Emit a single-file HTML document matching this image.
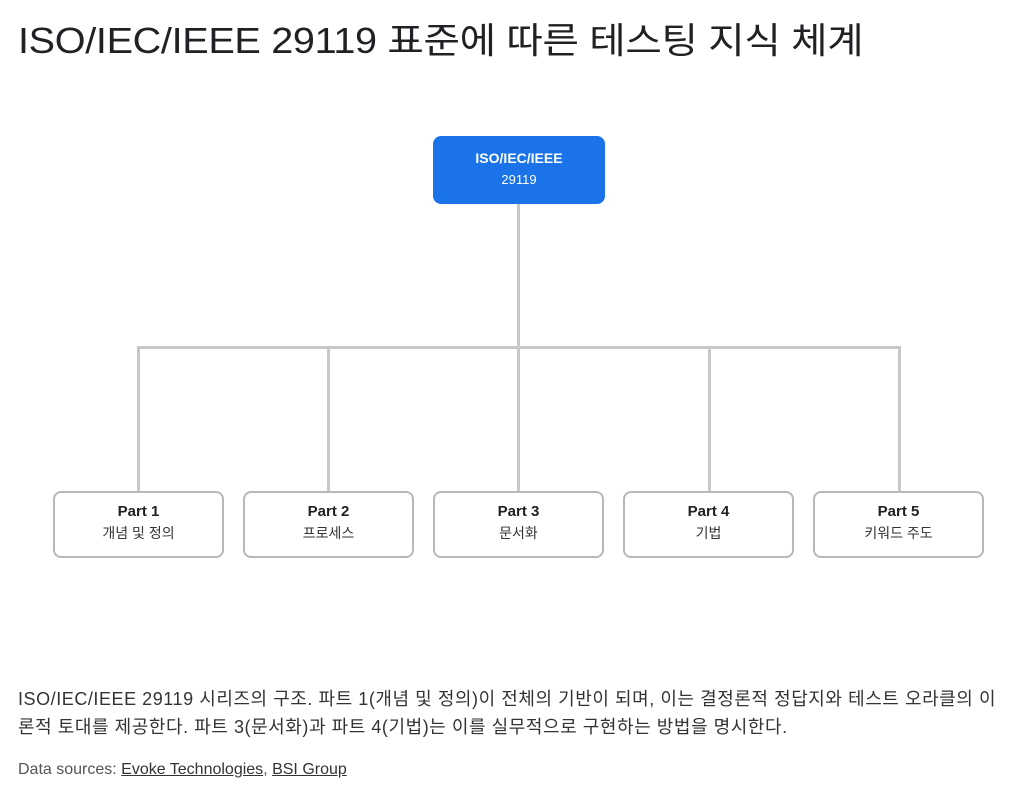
<!DOCTYPE html>
<html><head><meta charset="utf-8"><style>
body{margin:0;width:1024px;height:805px;background:#fff;font-family:"Liberation Sans","Noto Sans CJK KR",sans-serif;color:#202124;position:relative;overflow:hidden}
h1{position:absolute;left:18px;top:12px;margin:0;font-weight:400;font-size:36px;letter-spacing:-0.3px;white-space:nowrap;transform:scaleX(1.1);transform-origin:left top}
.box{position:absolute;box-sizing:border-box;border:2px solid #b8b8b8;border-radius:8px;background:#fff;text-align:center}
.box b{display:block;font-size:15px;margin-top:10px}
.box span{display:block;font-size:14px;margin-top:3px;color:#333}
.top{background:#1a73e8;border:none;color:#fff}
.top b{font-size:14px;margin-top:14px}
.top span{color:#fff;margin-top:6px;font-size:13px}
.l{position:absolute;background:#c8c8c8}
.cap{position:absolute;left:18px;top:685px;font-size:18px;letter-spacing:0.55px;line-height:28px;color:#333;width:1010px;white-space:nowrap}
.src{position:absolute;left:18px;top:761px;font-size:16px;color:#555}
.src u{color:#333}
</style></head><body>
<h1>ISO/IEC/IEEE 29119 표준에 따른 테스팅 지식 체계</h1>
<div class="l" style="left:517px;top:203px;width:3px;height:146px"></div>
<div class="l" style="left:137px;top:346px;width:764px;height:3px"></div>
<div class="l" style="left:137px;top:346px;width:3px;height:146px"></div>
<div class="l" style="left:327px;top:346px;width:3px;height:146px"></div>
<div class="l" style="left:517px;top:346px;width:3px;height:146px"></div>
<div class="l" style="left:708px;top:346px;width:3px;height:146px"></div>
<div class="l" style="left:898px;top:346px;width:3px;height:146px"></div>
<div class="box top" style="left:433px;top:136px;width:172px;height:68px"><b>ISO/IEC/IEEE</b><span>29119</span></div>
<div class="box" style="left:53px;top:491px;width:171px;height:67px"><b>Part 1</b><span>개념 및 정의</span></div>
<div class="box" style="left:243px;top:491px;width:171px;height:67px"><b>Part 2</b><span>프로세스</span></div>
<div class="box" style="left:433px;top:491px;width:171px;height:67px"><b>Part 3</b><span>문서화</span></div>
<div class="box" style="left:623px;top:491px;width:171px;height:67px"><b>Part 4</b><span>기법</span></div>
<div class="box" style="left:813px;top:491px;width:171px;height:67px"><b>Part 5</b><span>키워드 주도</span></div>
<div class="cap">ISO/IEC/IEEE 29119 시리즈의 구조. 파트 1(개념 및 정의)이 전체의 기반이 되며, 이는 결정론적 정답지와 테스트 오라클의 이<br>론적 토대를 제공한다. 파트 3(문서화)과 파트 4(기법)는 이를 실무적으로 구현하는 방법을 명시한다.</div>
<div class="src">Data sources: <u>Evoke Technologies</u>, <u>BSI Group</u></div>
</body></html>
